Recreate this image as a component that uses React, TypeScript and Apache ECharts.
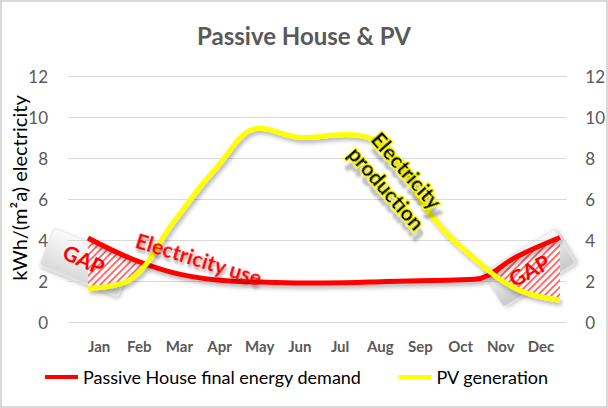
import { useEffect, useRef } from "react";
import * as echarts from "echarts";

const months = ["Jan", "Feb", "Mar", "Apr", "May", "Jun", "Jul", "Aug", "Sep", "Oct", "Nov", "Dec"];
const demand = [4.1, 3.1, 2.4, 2.05, 1.95, 1.9, 1.92, 1.98, 2.03, 2.08, 3.2, 4.12];
const pv = [1.65, 2.1, 4.9, 7.55, 9.45, 9.0, 9.15, 8.4, 5.2, 3.1, 1.6, 1.07];
const yMin = 0;
const yMax = 12;
const yStep = 2;
const seriesNames = ["Passive House final energy demand", "PV generation"];

const FONT = "Lato, 'Open Sans', sans-serif";

const tileSvg =
  "<svg xmlns='http://www.w3.org/2000/svg' width='7' height='7'>" +
  "<rect width='7' height='7' fill='rgba(255,255,255,0.8)'/>" +
  "<path d='M-2,2 L2,-2 M0,7 L7,0 M5,9 L9,5' stroke='#ff6666' stroke-width='1.8'/></svg>";
const tileUrl = "data:image/svg+xml;charset=utf-8," + encodeURIComponent(tileSvg);

export default function App() {
  const ref = useRef<HTMLDivElement>(null);
  useEffect(() => {
    if (!ref.current) return;
    const chart = echarts.init(ref.current, null, { renderer: "svg" });
    const pattern: any = { image: tileUrl, repeat: "repeat", imageWidth: 7, imageHeight: 7 };
    const lineShadow = {
      shadowColor: "rgba(0,0,0,0.3)",
      shadowBlur: 4,
      shadowOffsetX: 2,
      shadowOffsetY: 3,
    };
    const option: any = {
      animation: false,
      backgroundColor: "#ffffff",
      title: {
        text: "Passive House & PV",
        left: "center",
        top: 18,
        textStyle: { fontFamily: FONT, fontSize: 24, fontWeight: "bold", color: "#595959" },
      },
      legend: {
        data: seriesNames,
        left: 40,
        top: 363,
        icon: "rect",
        itemWidth: 33,
        itemHeight: 4,
        itemGap: 37,
        textStyle: { fontFamily: FONT, fontSize: 18, color: "#000000" },
      },
      grid: [
        { left: 68, right: 40, top: 76, bottom: 86 },
        { left: 88, right: 48, top: 76, bottom: 86 },
        { left: 79, right: 47, top: 76, bottom: 86 },
      ],
      xAxis: [
        { type: "value", gridIndex: 0, min: 0, max: 1, show: false },
        { type: "category", gridIndex: 1, data: months, boundaryGap: false, show: false },
        {
          type: "category",
          gridIndex: 2,
          data: months,
          boundaryGap: true,
          axisLine: { show: false },
          axisTick: { show: false },
          axisLabel: { margin: 16, color: "#595959", fontFamily: FONT, fontSize: 15, fontWeight: "bold" },
        },
      ],
      yAxis: [
        {
          type: "value",
          gridIndex: 0,
          min: yMin,
          max: yMax,
          interval: yStep,
          position: "left",
          axisLine: { show: false },
          axisTick: { show: false },
          splitLine: { lineStyle: { color: "#d9d9d9", width: 1 } },
          axisLabel: { margin: 20, color: "#595959", fontFamily: FONT, fontSize: 17 },
        },
        {
          type: "value",
          gridIndex: 0,
          min: yMin,
          max: yMax,
          interval: yStep,
          position: "right",
          axisLine: { show: false },
          axisTick: { show: false },
          splitLine: { show: false },
          axisLabel: { margin: 19, color: "#595959", fontFamily: FONT, fontSize: 17 },
        },
        { type: "value", gridIndex: 1, min: yMin, max: yMax, show: false },
        { type: "value", gridIndex: 2, min: yMin, max: yMax, show: false },
      ],
      series: [
        {
          type: "custom",
          name: "gap",
          xAxisIndex: 1,
          yAxisIndex: 2,
          z: 1,
          silent: true,
          data: months.map((_, i) => [i, demand[i]]),
          renderItem: (params: any, api: any) => {
            const i = api.value(0);
            if (i >= months.length - 1) return null;
            const r0 = demand[i], r1 = demand[i + 1], y0 = pv[i], y1 = pv[i + 1];
            const d0 = r0 - y0, d1 = r1 - y1;
            if (d0 <= 0 && d1 <= 0) return null;
            const R0 = api.coord([i, r0]);
            const R1 = api.coord([i + 1, r1]);
            const Y0 = api.coord([i, y0]);
            const Y1 = api.coord([i + 1, y1]);
            let pts: number[][];
            if (d0 > 0 && d1 > 0) pts = [R0, R1, Y1, Y0];
            else {
              const t = d0 / (d0 - d1);
              const C = [R0[0] + t * (R1[0] - R0[0]), R0[1] + t * (R1[1] - R0[1])];
              pts = d0 > 0 ? [R0, C, Y0] : [C, R1, Y1];
            }
            return { type: "polygon", shape: { points: pts }, style: { fill: pattern } };
          },
        },
        {
          type: "line",
          name: seriesNames[0],
          xAxisIndex: 1,
          yAxisIndex: 2,
          data: demand,
          smooth: 0.4,
          symbol: "none",
          z: 3,
          color: "#ff0000",
          lineStyle: { color: "#ff0000", width: 5, ...lineShadow },
        },
        {
          type: "line",
          name: seriesNames[1],
          xAxisIndex: 1,
          yAxisIndex: 2,
          data: pv,
          smooth: 0.4,
          symbol: "none",
          z: 4,
          color: "#ffff00",
          lineStyle: { color: "#ffff00", width: 5, ...lineShadow },
        },
      ],
      graphic: [
        {
          type: "rect",
          z: -10,
          shape: { x: 1, y: 1, width: 606, height: 406 },
          style: { fill: "none", stroke: "#d9d9d9", lineWidth: 2 },
        },
        {
          type: "text",
          z: 50,
          x: 19,
          y: 188,
          rotation: Math.PI / 2,
          style: {
            text: "kWh/(m²a) electricity",
            fontFamily: FONT,
            fontSize: 20,
            fill: "#000000",
            align: "center",
            verticalAlign: "middle",
          },
        },
        {
          type: "rect",
          z: 0,
          x: 86,
          y: 262,
          rotation: -0.38,
          shape: { x: -42, y: -20, width: 84, height: 40, r: 3 },
          style: {
            fill: new echarts.graphic.LinearGradient(0, 0, 0, 1, [
              { offset: 0, color: "#fcfcfc" },
              { offset: 1, color: "#d9d9d9" },
            ]),
            stroke: "#e6e6e6",
            lineWidth: 1,
            shadowColor: "rgba(0,0,0,0.25)",
            shadowBlur: 4,
            shadowOffsetX: 2,
            shadowOffsetY: 2,
          },
        },
        {
          type: "rect",
          z: 0,
          x: 529,
          y: 268,
          rotation: 0.55,
          shape: { x: -42, y: -20, width: 84, height: 40, r: 3 },
          style: {
            fill: new echarts.graphic.LinearGradient(0, 0, 0, 1, [
              { offset: 0, color: "#fafafa" },
              { offset: 1, color: "#c8c8c8" },
            ]),
            stroke: "#e0e0e0",
            lineWidth: 1,
            shadowColor: "rgba(0,0,0,0.25)",
            shadowBlur: 4,
            shadowOffsetX: 2,
            shadowOffsetY: 2,
          },
        },
        {
          type: "text",
          z: 50,
          x: 84,
          y: 259,
          rotation: -0.42,
          style: {
            text: "GAP",
            fontFamily: FONT,
            fontSize: 21,
            fontWeight: "bold",
            fill: "#ff0000",
            align: "center",
            verticalAlign: "middle",
          },
        },
        {
          type: "text",
          z: 50,
          x: 529,
          y: 270,
          rotation: 0.5,
          style: {
            text: "GAP",
            fontFamily: FONT,
            fontSize: 21,
            fontWeight: "bold",
            fill: "#ff0000",
            align: "center",
            verticalAlign: "middle",
          },
        },
        {
          type: "text",
          z: 50,
          x: 199,
          y: 258,
          rotation: -0.3,
          style: {
            text: "Electricity use",
            fontFamily: FONT,
            fontSize: 21,
            fontWeight: "bold",
            fill: "#ff0000",
            align: "center",
            verticalAlign: "middle",
            textShadowColor: "rgba(0,0,0,0.35)",
            textShadowBlur: 3,
            textShadowOffsetX: 2,
            textShadowOffsetY: 3,
          },
        },
        {
          type: "text",
          z: 50,
          x: 397,
          y: 179,
          rotation: -0.85,
          style: {
            text: "Electricity\nproduction",
            fontFamily: FONT,
            fontSize: 21,
            fontWeight: "bold",
            lineHeight: 27,
            fill: "#000000",
            stroke: "#ffff00",
            lineWidth: 2.5,
            align: "center",
            verticalAlign: "middle",
            textShadowColor: "rgba(0,0,0,0.25)",
            textShadowBlur: 2,
            textShadowOffsetX: 8,
            textShadowOffsetY: 5,
          },
        },
      ],
    };
    chart.setOption(option);
    return () => chart.dispose();
  }, []);
  return (
    <div
      ref={ref}
      style={{ position: "absolute", left: 0, top: 0, width: 608, height: 408 }}
    />
  );
}
